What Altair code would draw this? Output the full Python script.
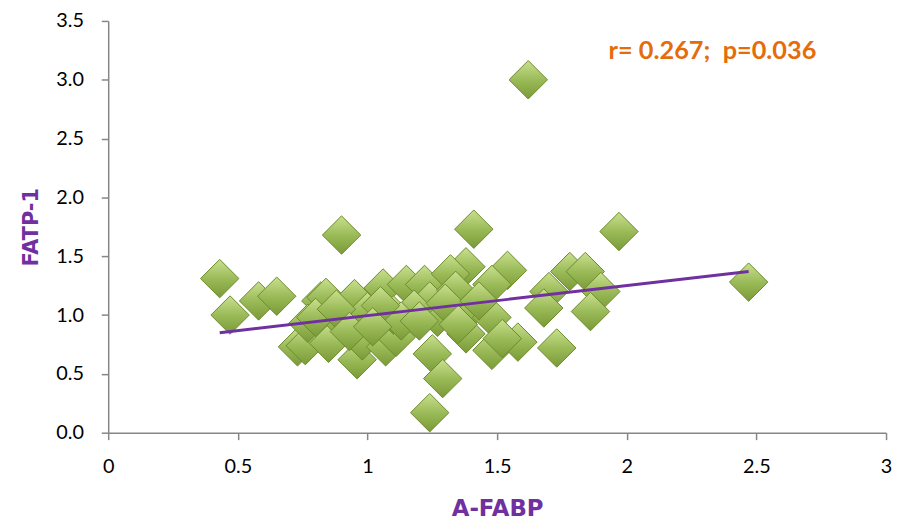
import altair as alt
import pandas as pd

# A-FABP (x) and FATP-1 (y) values
afabp = [0.43, 0.47, 0.58, 0.65, 0.90, 0.73, 0.76, 0.82, 0.84, 0.77,
         0.85, 0.96, 0.95, 0.90, 1.00, 0.98, 1.07, 1.11, 1.06, 1.15,
         1.22, 1.24, 1.27, 1.25, 1.29, 1.24, 1.41, 1.97, 2.47, 1.54,
         1.38, 1.32, 1.34, 1.48, 1.78, 1.84, 1.90, 1.70, 1.68, 1.86,
         1.39, 1.48, 1.38, 1.48, 1.58, 1.52, 1.73, 1.62, 1.10, 1.18,
         1.13, 0.80, 0.88, 1.05, 1.20, 1.30, 1.43, 1.35, 0.93, 1.02]
fatp1 = [1.31, 1.00, 1.12, 1.16, 1.68, 0.73, 0.74, 1.12, 1.15, 0.93,
         0.76, 0.62, 1.14, 0.95, 1.03, 0.78, 0.73, 0.81, 1.23, 1.26,
         1.26, 1.12, 0.98, 0.67, 0.46, 0.17, 1.73, 1.71, 1.28, 1.38,
         1.41, 1.35, 1.21, 1.26, 1.37, 1.37, 1.20, 1.20, 1.06, 1.03,
         1.03, 0.98, 0.84, 0.70, 0.77, 0.80, 0.72, 3.00, 1.00, 1.05,
         0.95, 0.98, 1.05, 1.08, 0.95, 1.10, 1.12, 0.92, 0.86, 0.90]

# trend line end points
fit_x = [0.43, 2.47]
fit_y = [0.85, 1.37]

# annotation
note_text = ["r= 0.267;\u00a0 p=0.036"]
note_x = [1.93]
note_y = [3.24]

pts = pd.DataFrame({"x": afabp, "y": fatp1})
fit = pd.DataFrame({"x": fit_x, "y": fit_y})
note = pd.DataFrame({"x": note_x, "y": note_y, "t": note_text})

xscale = alt.Scale(domain=[0, 3], nice=False, zero=True)
yscale = alt.Scale(domain=[0, 3.5], nice=False, zero=True)

xaxis = alt.Axis(values=[0, 0.5, 1, 1.5, 2, 2.5, 3], format="~g", grid=False,
                 labelFlush=False,
                 title="A-FABP", titleColor="#7030A0", titleFont="DejaVu Sans",
                 titleFontSize=23, titleFontWeight="bold", titlePadding=21,
                 labelFont="Lato", labelFontSize=20, labelColor="#000000",
                 labelPadding=17, tickSize=7, tickColor="#868686",
                 domainColor="#868686", domainWidth=1.5, tickWidth=1.5)
yaxis = alt.Axis(values=[0, 0.5, 1, 1.5, 2, 2.5, 3, 3.5], format=".1f", grid=False,
                 labelFlush=False,
                 title="FATP-1", titleColor="#7030A0", titleFont="DejaVu Sans",
                 titleFontSize=21, titleFontWeight="bold", titlePadding=14,
                 labelFont="Lato", labelFontSize=20, labelColor="#000000",
                 labelPadding=18, tickSize=7, tickColor="#868686",
                 domainColor="#868686", domainWidth=1.5, tickWidth=1.5)

grad = alt.Gradient(gradient="linear", x1=0, y1=0, x2=0, y2=1,
                    stops=[alt.GradientStop(color="#c9e08e", offset=0),
                           alt.GradientStop(color="#9bbb59", offset=0.5),
                           alt.GradientStop(color="#7a9a38", offset=1)])

points = alt.Chart(pts).mark_point(shape="diamond", size=1500, filled=True,
                                    fill=grad, stroke="#6b8a2c", strokeWidth=1,
                                    opacity=1).encode(
    x=alt.X("x:Q", scale=xscale, axis=xaxis),
    y=alt.Y("y:Q", scale=yscale, axis=yaxis),
)

line = alt.Chart(fit).mark_line(color="#7030A0", strokeWidth=3).encode(
    x=alt.X("x:Q", scale=xscale),
    y=alt.Y("y:Q", scale=yscale),
)

text = alt.Chart(note).mark_text(align="left", baseline="middle", font="Lato",
                                 fontSize=25.5, fontWeight="bold",
                                 color="#E46C0A").encode(
    x=alt.X("x:Q", scale=xscale),
    y=alt.Y("y:Q", scale=yscale),
    text="t:N",
)

chart = (points + line + text).properties(
    width=784, height=415,
    padding={"left": 13, "top": 1, "right": 0, "bottom": 5},
).configure_view(stroke=None)

chart.save("out.html", embed_options={"renderer": "svg", "actions": False})
